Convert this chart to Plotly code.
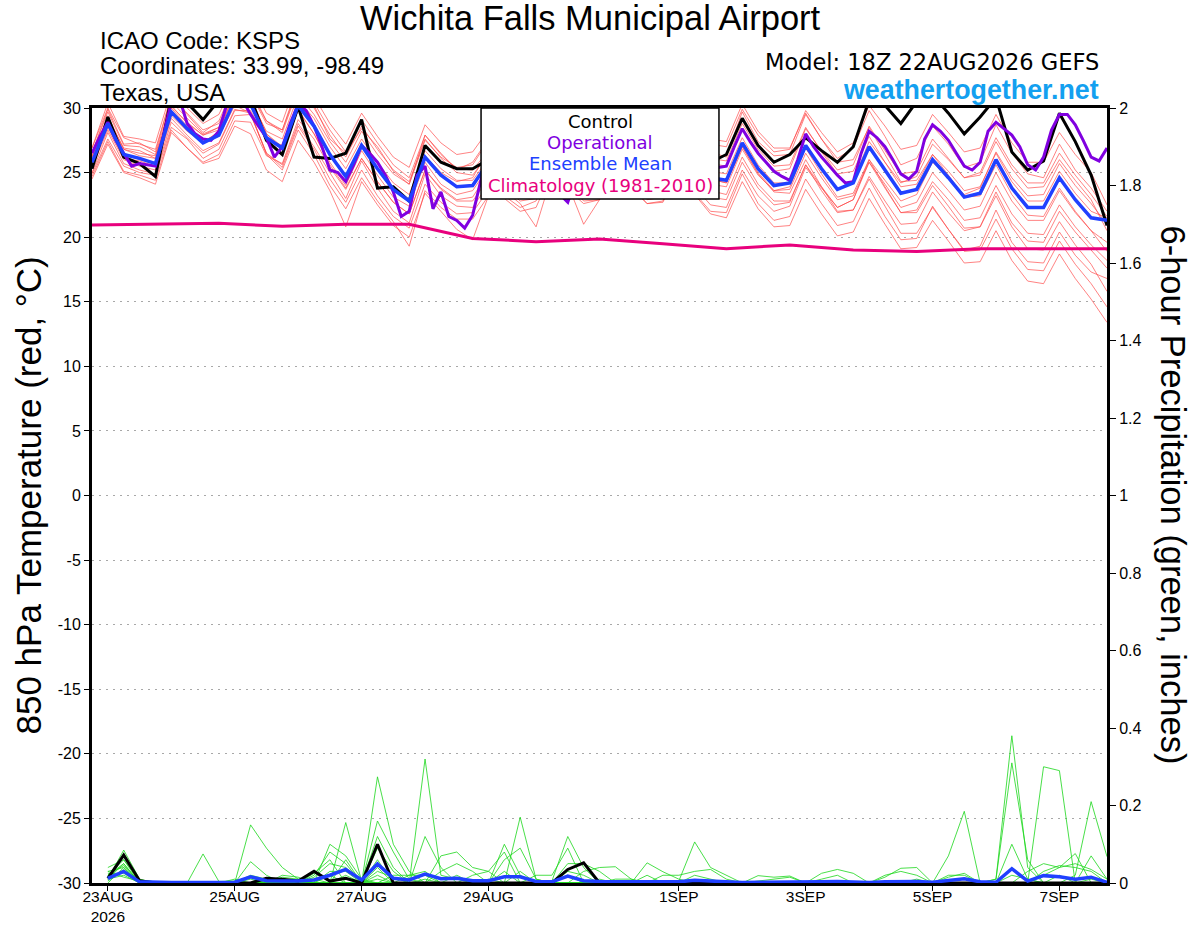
"""
GEFS plume for Wichita Falls Municipal Airport (KSPS).
850 hPa temperature (left axis) and 6-hour precipitation (right axis)
from the 18Z 22AUG2026 run, with control, operational, ensemble mean
and 1981-2010 climatology.
"""

import pandas as pd
import plotly.graph_objects as go

FONT = "Liberation Sans, Arial, Helvetica, sans-serif"
WIDE_FONT = "DejaVu Sans, Verdana, sans-serif"

# --- time axes ------------------------------------------------------------
temp_times = pd.date_range("2026-08-22 18:00", periods=65, freq="6h")
op_times = pd.date_range("2026-08-22 18:00", periods=129, freq="3h")
precip_times = pd.date_range("2026-08-23 00:00", periods=64, freq="6h")
clim_times = pd.date_range("2026-08-22 18:00", periods=17, freq="24h")

tick_dates = ["2026-08-23", "2026-08-25", "2026-08-27", "2026-08-29",
              "2026-09-01", "2026-09-03", "2026-09-05", "2026-09-07"]
tick_labels = ["23AUG<br>2026", "25AUG", "27AUG", "29AUG",
               "1SEP", "3SEP", "5SEP", "7SEP"]
temp_ticks = [-30, -25, -20, -15, -10, -5, 0, 5, 10, 15, 20, 25, 30]
temp_tick_labels = ["-30", "-25", "-20", "-15", "-10", "-5", "0",
                    "5", "10", "15", "20", "25", "30"]

# --- 850 hPa temperature (deg C), 6-hourly ---------------------------------
control_temp = [25.3, 29.3, 26.2, 25.7, 24.7, 30.8, 30.4, 29.1, 30.6, 31.5,
                30.8, 27.5, 26.4, 30.1, 26.2, 26.1, 26.5, 29.1, 23.8, 23.9,
                22.8, 27.1, 25.8, 25.3, 25.3, 26.0, 25.6, 24.8, 25.2, 28.0,
                26.8, 25.3, 25.6, 28.6, 27.0, 25.5, 25.8, 28.8, 27.0, 25.8,
                26.4, 29.2, 27.1, 25.8, 26.4, 27.7, 26.7, 25.8, 27.0, 30.6,
                30.2, 28.8, 30.5, 31.0, 29.6, 28.0, 29.3, 30.8, 26.6, 25.2,
                25.9, 29.6, 27.4, 24.8, 20.9]

mean_temp = [25.8, 28.8, 26.4, 26.1, 25.7, 29.7, 28.4, 27.3, 27.9, 30.6,
             30.3, 27.7, 26.9, 30.2, 28.6, 26.4, 24.7, 27.1, 25.3, 23.7,
             22.8, 26.2, 24.8, 23.9, 24.0, 25.8, 25.6, 24.5, 24.8, 27.5,
             26.0, 24.8, 25.0, 27.8, 26.2, 25.0, 25.2, 28.0, 26.0, 24.6,
             24.4, 27.3, 25.3, 24.0, 24.2, 27.1, 25.3, 23.7, 24.2, 27.0,
             25.2, 23.4, 23.7, 26.0, 24.6, 23.1, 23.4, 26.0, 23.8, 22.3,
             22.3, 24.6, 22.9, 21.5, 21.3]

# operational run is 3-hourly
operational_temp = [26.5, 27.8, 28.9, 27.5, 26.5, 25.5, 25.7, 25.6, 25.5, 27.8,
                    30.5, 30.8, 28.8, 28.0, 27.6, 27.5, 28.2, 30.3, 31.2, 30.6,
                    29.5, 28.6, 27.7, 26.2, 27.0, 28.8, 30.3, 29.8, 28.6, 27.0,
                    25.2, 25.0, 24.3, 25.6, 27.1, 26.5, 25.8, 24.8, 23.5, 21.6,
                    22.0, 24.8, 25.5, 22.2, 23.5, 21.6, 21.3, 20.7, 21.7, 24.3,
                    26.5, 27.5, 28.2, 27.8, 27.0, 25.8, 24.8, 24.0, 23.8, 23.3,
                    22.7, 24.5, 26.5, 27.5, 27.8, 27.0, 26.0, 25.0, 24.5, 25.5,
                    27.0, 28.0, 28.2, 27.3, 26.3, 25.5, 25.0, 25.2, 25.3, 25.4,
                    25.5, 27.0, 28.4, 27.4, 26.5, 25.8, 25.1, 24.7, 24.4, 26.0,
                    28.0, 27.0, 26.2, 25.5, 24.8, 24.2, 24.3, 26.5, 28.2, 27.7,
                    27.0, 26.0, 24.9, 24.5, 25.1, 27.6, 28.7, 28.2, 27.5, 26.5,
                    25.5, 25.2, 25.8, 28.2, 28.9, 28.4, 27.9, 27.0, 25.6, 25.2,
                    26.2, 28.3, 29.5, 29.5, 28.7, 27.5, 26.2, 25.9, 26.9]

climatology_temp = [20.94, 21.0, 21.07, 20.85, 21.0, 21.0, 19.9, 19.65, 19.86,
                    19.5, 19.1, 19.4, 19.0, 18.9, 19.1, 19.1, 19.1]

m01_temp = [26.5, 29.9, 27.2, 27.3, 26.6, 30.9, 29.5, 28.1, 29.0, 31.8,
            31.2, 29.0, 28.1, 31.5, 30.2, 27.6, 26.5, 28.4, 27.0, 25.1,
            24.1, 27.9, 26.5, 25.2, 25.8, 27.6, 27.1, 26.3, 26.9, 29.6,
            28.1, 26.7, 27.2, 30.1, 28.4, 27.0, 27.5, 30.3, 28.1, 26.6,
            26.2, 29.7, 27.4, 26.3, 26.4, 29.5, 27.6, 26.1, 26.9, 29.8,
            27.8, 25.6, 26.1, 28.6, 27.2, 25.4, 25.8, 28.7, 26.5, 24.9,
            24.6, 27.2, 25.2, 23.8, 22.0]
m02_temp = [24.9, 27.6, 25.5, 25.0, 24.8, 28.5, 27.6, 26.1, 26.8, 29.4,
            29.5, 26.5, 25.6, 28.8, 27.0, 25.0, 23.0, 25.9, 23.8, 22.0,
            21.1, 24.9, 23.2, 22.4, 22.3, 24.1, 23.9, 22.8, 23.0, 25.8,
            24.1, 21.0, 22.9, 25.6, 23.8, 22.6, 22.8, 25.6, 23.4, 22.0,
            21.9, 24.9, 22.6, 21.3, 21.6, 24.5, 22.6, 20.9, 21.2, 23.8,
            21.6, 19.8, 19.9, 22.4, 20.6, 19.0, 19.3, 22.1, 19.6, 18.1,
            18.0, 20.4, 18.6, 17.3, 16.8]
m03_temp = [26.2, 29.4, 26.8, 26.5, 26.3, 30.1, 28.9, 27.9, 28.3, 31.0,
            30.6, 27.6, 26.5, 29.9, 28.0, 25.8, 24.0, 26.7, 24.8, 23.1,
            22.4, 25.8, 24.1, 23.3, 23.6, 25.4, 25.3, 24.6, 25.1, 28.0,
            26.6, 25.5, 25.9, 28.9, 27.1, 26.1, 26.3, 29.2, 27.0, 25.7,
            25.5, 28.3, 26.4, 25.1, 25.3, 28.4, 26.7, 25.2, 25.6, 28.6,
            26.7, 24.9, 25.1, 27.6, 26.1, 24.6, 24.8, 27.4, 25.3, 23.8,
            23.9, 26.0, 24.4, 22.9, 20.5]
m04_temp = [25.4, 28.3, 26.0, 25.5, 25.2, 29.2, 27.9, 26.7, 27.3, 29.9,
            29.6, 26.5, 25.4, 28.6, 26.8, 24.5, 22.7, 25.2, 23.2, 21.6,
            20.7, 24.1, 22.7, 21.8, 21.9, 23.7, 23.6, 22.6, 20.8, 24.8,
            24.8, 23.6, 23.9, 26.8, 25.2, 24.0, 24.2, 27.0, 25.0, 23.6,
            23.3, 26.2, 24.1, 22.8, 22.8, 25.6, 23.6, 21.9, 22.1, 24.7,
            22.8, 21.0, 21.1, 23.5, 21.9, 20.5, 20.8, 23.5, 21.1, 19.7,
            19.6, 22.0, 20.4, 19.0, 17.6]
m05_temp = [26.9, 30.4, 27.8, 27.6, 27.3, 31.3, 30.0, 28.8, 29.5, 32.1,
            32.0, 29.6, 28.9, 32.4, 30.9, 28.8, 27.2, 29.6, 27.8, 26.2,
            25.4, 28.7, 27.3, 26.4, 26.6, 28.3, 28.0, 26.9, 27.1, 29.6,
            27.9, 26.5, 26.6, 29.4, 27.7, 26.5, 26.7, 29.5, 27.4, 26.1,
            25.9, 28.8, 26.8, 25.5, 25.6, 28.5, 26.6, 24.9, 25.1, 27.8,
            25.8, 23.9, 24.1, 26.4, 25.1, 23.6, 23.9, 26.5, 24.3, 22.8,
            22.8, 25.1, 23.4, 22.0, 21.5]
m06_temp = [24.5, 27.2, 25.0, 24.6, 24.1, 28.1, 26.9, 25.8, 26.4, 29.0,
            28.9, 26.3, 25.7, 29.1, 27.6, 25.4, 23.7, 26.1, 24.3, 22.7,
            21.8, 25.2, 23.7, 22.8, 22.8, 24.5, 24.3, 23.1, 23.3, 25.9,
            24.2, 22.8, 22.9, 25.6, 23.9, 22.6, 22.7, 25.4, 23.3, 21.8,
            21.5, 24.3, 22.2, 20.8, 20.9, 23.7, 21.8, 20.1, 20.4, 23.0,
            21.0, 19.1, 19.2, 21.3, 19.7, 18.0, 18.1, 20.5, 18.2, 16.6,
            16.4, 18.7, 16.8, 15.2, 13.4]
m07_temp = [25.7, 28.9, 26.5, 26.0, 25.8, 29.8, 28.5, 27.4, 28.1, 30.8,
            30.6, 28.2, 27.6, 31.0, 29.5, 27.4, 25.8, 28.2, 26.4, 24.9,
            24.1, 27.5, 26.2, 25.4, 25.6, 27.5, 27.4, 26.4, 26.9, 29.7,
            28.3, 27.2, 27.5, 30.4, 28.8, 27.6, 27.8, 30.6, 28.6, 27.2,
            27.0, 29.9, 27.9, 26.6, 26.8, 29.8, 28.1, 26.6, 27.3, 30.2,
            28.6, 26.8, 27.1, 29.5, 28.1, 26.6, 26.9, 29.5, 27.3, 25.8,
            25.8, 28.1, 26.4, 25.0, 22.5]
m08_temp = [26.3, 29.2, 26.9, 26.7, 26.1, 30.0, 28.6, 27.4, 27.8, 30.2,
            29.6, 26.4, 25.2, 28.3, 26.4, 24.0, 22.2, 24.6, 22.8, 21.2,
            19.3, 23.6, 22.3, 21.4, 21.4, 23.2, 23.0, 22.0, 22.3, 25.1,
            23.7, 22.6, 22.9, 25.9, 24.5, 23.4, 23.7, 26.5, 24.5, 23.1,
            22.9, 25.8, 23.8, 22.5, 22.7, 25.6, 23.9, 22.3, 22.9, 25.8,
            24.1, 22.3, 22.7, 25.0, 23.6, 22.1, 22.4, 25.0, 22.8, 21.3,
            21.3, 23.6, 21.9, 20.5, 19.6]
m09_temp = [25.0, 28.1, 25.7, 25.2, 24.9, 28.9, 27.7, 26.5, 27.2, 29.8,
            29.8, 27.6, 27.1, 30.6, 29.2, 27.0, 25.3, 27.6, 25.8, 24.2,
            23.3, 26.7, 25.3, 24.4, 24.4, 26.1, 25.8, 24.7, 24.9, 27.6,
            26.0, 24.8, 25.0, 27.8, 26.2, 25.0, 25.2, 28.0, 25.9, 24.5,
            24.2, 27.0, 25.0, 23.6, 23.7, 26.5, 24.6, 22.9, 23.2, 25.8,
            23.8, 21.9, 22.1, 24.3, 22.9, 21.3, 21.5, 24.0, 21.8, 20.3,
            20.2, 22.5, 20.8, 19.4, 18.2]
m10_temp = [26.9, 30.0, 27.7, 27.2, 26.8, 30.9, 29.6, 28.3, 28.8, 31.3,
            30.9, 28.0, 26.8, 29.8, 28.0, 25.6, 23.8, 26.1, 24.3, 22.7,
            21.8, 25.2, 23.8, 22.9, 23.1, 25.0, 24.9, 23.9, 24.3, 27.1,
            25.7, 24.6, 24.9, 27.9, 26.4, 25.3, 25.6, 28.5, 26.5, 25.1,
            24.9, 27.7, 25.6, 24.2, 24.2, 26.9, 24.9, 23.1, 23.4, 26.0,
            23.9, 21.9, 21.9, 24.0, 22.4, 20.7, 20.8, 23.2, 20.8, 19.1,
            19.0, 21.2, 19.4, 17.9, 15.8]
m11_temp = [25.5, 28.5, 26.1, 25.9, 25.5, 29.4, 28.2, 27.3, 28.2, 31.2,
            31.1, 28.8, 28.3, 31.9, 30.4, 28.3, 26.6, 29.1, 27.3, 25.6,
            24.6, 27.9, 26.4, 25.3, 25.2, 26.7, 26.2, 24.8, 24.8, 27.2,
            25.3, 23.8, 23.6, 26.1, 24.3, 22.9, 23.1, 25.9, 23.9, 22.5,
            22.3, 25.2, 23.2, 22.0, 22.4, 25.4, 23.8, 22.3, 22.9, 26.0,
            24.4, 22.8, 23.3, 25.8, 24.6, 23.3, 23.8, 26.6, 24.6, 23.2,
            23.3, 25.7, 24.0, 22.6, 21.0]
m12_temp = [26.5, 29.7, 27.1, 27.0, 26.4, 30.5, 29.2, 28.0, 28.5, 31.1,
            30.8, 28.0, 27.0, 30.3, 28.6, 26.4, 24.7, 27.1, 25.3, 23.7,
            22.8, 26.3, 25.0, 24.3, 24.6, 26.7, 26.8, 26.0, 26.6, 29.6,
            28.4, 27.5, 27.9, 30.9, 29.2, 28.0, 28.2, 31.0, 29.0, 27.6,
            27.4, 30.3, 28.2, 26.9, 26.9, 29.6, 27.6, 25.8, 26.0, 28.5,
            26.4, 24.3, 24.4, 26.4, 24.8, 23.1, 23.2, 25.6, 23.3, 21.7,
            21.6, 23.8, 22.0, 20.5, 18.9]
m13_temp = [24.7, 27.4, 25.1, 24.8, 24.4, 28.3, 26.9, 25.7, 26.1, 28.6,
            28.0, 25.2, 24.3, 27.5, 25.8, 23.6, 20.8, 24.3, 22.5, 20.9,
            20.0, 23.4, 22.0, 20.6, 19.8, 23.2, 23.2, 22.3, 22.8, 25.7,
            24.5, 23.5, 23.9, 26.9, 25.5, 24.5, 24.8, 27.7, 25.8, 24.5,
            24.2, 27.0, 24.9, 23.5, 23.4, 26.0, 23.9, 22.0, 22.1, 24.5,
            22.4, 20.3, 20.3, 22.3, 20.6, 18.9, 19.0, 21.4, 19.1, 17.5,
            17.4, 19.7, 17.9, 16.4, 14.6]
m14_temp = [26.2, 29.0, 26.8, 26.3, 26.1, 30.2, 28.8, 27.9, 28.5, 31.5,
            31.5, 29.0, 28.3, 31.6, 30.0, 27.9, 26.2, 28.6, 26.8, 25.2,
            24.3, 27.6, 26.1, 25.0, 24.8, 26.4, 26.0, 24.7, 24.9, 27.4,
            25.8, 24.4, 24.5, 27.3, 25.7, 24.5, 24.7, 27.5, 25.5, 24.1,
            23.9, 26.8, 24.8, 23.6, 23.9, 26.9, 25.2, 23.7, 24.4, 27.4,
            25.8, 24.2, 24.7, 27.2, 26.0, 24.6, 25.0, 27.7, 25.6, 24.2,
            24.2, 26.5, 24.8, 23.3, 21.6]

# --- 6-hour precipitation (inches) ----------------------------------------
control_precip = [.012, .072, .006, 0, 0, 0, 0, 0, 0, 0, .012, .01, .005, .03, .005, .012,
                  0, .1, 0, 0, 0, 0, 0, 0, 0, 0, 0, 0, 0, .035, .052, 0,
                  0, 0, 0, 0, 0, 0, 0, 0, 0, 0, 0, 0, 0, 0, 0, 0,
                  0, 0, 0, 0, 0, 0, 0, 0, 0, 0, 0, 0, 0, 0, 0, 0]
mean_precip = [.012, .03, .003, .001, .001, .001, .001, .001, .002, .016, .006, .005, .005, .008, .02, .035,
               .008, .049, .012, .008, .023, .011, .012, .006, .006, .016, .016, .004, .003, .018, .006, .004,
               .004, .002, .003, .002, .003, .007, .005, .002, .001, .002, .002, .002, .001, .003, .004, .003,
               .001, .003, .004, .004, .002, .007, .011, .003, .002, .037, .005, .019, .016, .01, .015, .002]

m01_precip = [.02, .05, 0, 0, 0, 0, 0, 0, 0, 0, 0, .02, .015, 0, .02, 0,
              0, .04, 0, 0, 0, .07, .08, .04, .03, 0, 0, 0, 0, 0, 0, .01,
              0, 0, 0, 0, 0, 0, 0, 0, 0, 0, 0, 0, 0, 0, 0, 0,
              0, .015, .038, .04, 0, 0, 0, 0, 0, 0, 0, 0, 0, .02, .21, .068]
m02_precip = [.01, .085, .01, 0, 0, 0, 0, 0, 0, .055, .02, 0, 0, 0, 0, 0,
              0, .12, .04, 0, 0, 0, 0, 0, 0, .1, .02, 0, 0, 0, 0, 0,
              0, 0, .02, 0, 0, 0, 0, 0, 0, 0, 0, 0, 0, 0, 0, 0,
              0, 0, 0, 0, 0, .07, .185, 0, 0, 0, 0, 0, 0, 0, 0, 0]
m03_precip = [.03, .04, 0, 0, 0, 0, 0, 0, .01, 0, 0, 0, 0, .02, .08, .05,
              0, .01, 0, .02, .02, 0, 0, 0, 0, 0, 0, 0, .005, .12, .04, 0,
              0, 0, 0, 0, 0, 0, 0, 0, 0, .019, .015, .018, 0, 0, 0, 0,
              0, 0, 0, 0, 0, 0, 0, 0, 0, 0, 0, .02, .04, .05, .035, .01]
m04_precip = [.015, .03, 0, 0, 0, 0, .075, .004, .005, 0, 0, 0, 0, 0, 0, .02,
              0, .03, .015, 0, 0, 0, 0, 0, 0, 0, .17, .01, 0, 0, 0, 0,
              0, 0, 0, 0, 0, 0, 0, 0, 0, 0, 0, 0, 0, 0, 0, 0,
              0, 0, 0, 0, 0, 0, 0, 0, .01, .38, .04, 0, 0, 0, 0, 0]
m05_precip = [.04, .06, .008, .003, 0, 0, 0, 0, 0, .015, 0, 0, 0, 0, .1, .07,
              .01, 0, 0, 0, 0, 0, 0, .02, .03, .08, 0, 0, 0, 0, 0, 0,
              0, 0, 0, 0, .005, .106, .04, .02, 0, 0, 0, 0, 0, 0, 0, 0,
              0, 0, 0, 0, 0, 0, 0, 0, 0, 0, 0, .03, .045, .04, .03, 0]
m06_precip = [.01, .02, 0, 0, 0, 0, 0, 0, 0, 0, 0, .015, .01, .01, 0, 0,
              0, .274, .1, .03, 0, 0, 0, 0, 0, 0, .03, 0, 0, .03, .02, 0,
              0, 0, 0, 0, 0, 0, 0, 0, 0, 0, 0, 0, 0, 0, 0, 0,
              0, .02, .03, .02, 0, 0, 0, 0, 0, 0, 0, 0, .02, 0, 0, 0]
m07_precip = [.02, .045, 0, 0, 0, 0, 0, 0, 0, .15, .09, .04, .01, 0, 0, 0,
              0, .02, 0, 0, 0, 0, .02, 0, 0, 0, 0, 0, 0, 0, .03, .04,
              .042, .01, 0, 0, 0, 0, 0, 0, 0, 0, 0, 0, 0, 0, 0, 0,
              0, 0, 0, 0, 0, 0, 0, 0, .01, .31, .06, 0, 0, 0, 0, 0]
m08_precip = [.005, .035, 0, 0, 0, 0, 0, 0, 0, 0, 0, 0, 0, 0, 0, .06,
              0, 0, .02, .02, .03, 0, 0, 0, .01, 0, 0, 0, 0, 0, 0, 0,
              0, 0, 0, 0, 0, 0, 0, 0, 0, .005, .01, .015, 0, 0, 0, 0,
              0, 0, 0, 0, 0, .015, .025, 0, 0, 0, 0, 0, 0, 0, 0, 0]
m09_precip = [.025, .025, 0, 0, 0, 0, 0, .003, 0, 0, 0, 0, 0, .015, .05, .04,
              0, 0, 0, 0, .32, .02, .01, 0, 0, 0, 0, 0, 0, .02, 0, 0,
              0, 0, .052, .029, .01, 0, 0, 0, 0, 0, 0, 0, 0, 0, 0, 0,
              0, 0, 0, 0, 0, 0, 0, 0, 0, .1, .01, 0, 0, 0, 0, 0]
m10_precip = [.01, .05, 0, 0, 0, 0, 0, 0, 0, .02, .01, 0, 0, 0, 0, 0,
              0, .16, .08, .01, 0, 0, 0, 0, 0, .03, 0, 0, 0, 0, 0, 0,
              .01, .01, 0, 0, 0, 0, 0, 0, 0, 0, 0, 0, 0, .025, .035, .025,
              0, 0, 0, 0, 0, 0, 0, 0, 0, 0, 0, 0, 0, 0, .07, .01]
m11_precip = [.03, .015, .005, 0, 0, 0, 0, 0, 0, 0, 0, 0, 0, .025, .06, 0,
              0, .06, 0, 0, 0, .03, .05, .03, 0, 0, 0, 0, 0, 0, 0, 0,
              0, 0, 0, .02, .02, .03, .035, .01, 0, 0, 0, 0, 0, 0, 0, 0,
              0, 0, 0, 0, 0, 0, 0, 0, 0, .02, .01, 0, 0, 0, 0, 0]
m12_precip = [.015, .03, 0, 0, 0, 0, 0, 0, 0, .01, 0, 0, 0, 0, 0, .156,
              .005, 0, 0, 0, .01, 0, 0, 0, 0, .06, .09, .01, 0, 0, 0, 0,
              0, 0, 0, 0, 0, .02, .01, 0, 0, 0, 0, 0, 0, 0, 0, 0,
              0, 0, 0, 0, 0, 0, 0, 0, 0, 0, .03, .05, .04, .076, 0, 0]
m13_precip = [0, .04, 0, 0, 0, 0, 0, 0, 0, 0, 0, 0, .005, 0, 0, 0,
              0, .09, .03, 0, 0, 0, 0, 0, 0, 0, 0, .02, .02, .09, 0, 0,
              0, 0, 0, 0, 0, 0, 0, 0, 0, 0, 0, 0, 0, .01, .02, 0,
              0, 0, 0, 0, 0, 0, 0, 0, 0, 0, 0, .3, .29, 0, 0, 0]
m14_precip = [.02, .06, 0, 0, 0, 0, 0, 0, 0, 0, 0, 0, 0, 0, .03, .03,
              0, 0, 0, 0, .12, .04, 0, 0, 0, 0, 0, 0, 0, .05, .05, .03,
              0, 0, 0, 0, 0, 0, 0, 0, 0, 0, 0, 0, 0, 0, 0, 0,
              0, 0, 0, .01, 0, .02, .02, 0, 0, 0, 0, 0, 0, 0, .01, 0]

temp_members = [m01_temp, m02_temp, m03_temp, m04_temp, m05_temp, m06_temp, m07_temp,
                m08_temp, m09_temp, m10_temp, m11_temp, m12_temp, m13_temp, m14_temp]
precip_members = [m01_precip, m02_precip, m03_precip, m04_precip, m05_precip,
                  m06_precip, m07_precip, m08_precip, m09_precip, m10_precip,
                  m11_precip, m12_precip, m13_precip, m14_precip]

RED = "rgba(255,70,70,0.75)"
GREEN = "rgba(30,215,30,0.9)"
PURPLE = "#8000e0"
BLUE = "#2040ff"
PINK = "#e8007d"

fig = go.Figure()

# ensemble members
for member in temp_members:
    fig.add_trace(go.Scatter(x=temp_times, y=member, mode="lines",
                             line=dict(color=RED, width=0.9), yaxis="y"))
for member in precip_members:
    fig.add_trace(go.Scatter(x=precip_times, y=member, mode="lines",
                             line=dict(color=GREEN, width=0.9), yaxis="y2"))

# climatology, control, operational, mean
fig.add_trace(go.Scatter(x=clim_times, y=climatology_temp, mode="lines",
                         line=dict(color=PINK, width=3), yaxis="y"))
fig.add_trace(go.Scatter(x=temp_times, y=control_temp, mode="lines",
                         line=dict(color="black", width=3), yaxis="y"))
fig.add_trace(go.Scatter(x=op_times, y=operational_temp, mode="lines",
                         line=dict(color=PURPLE, width=3), yaxis="y"))
fig.add_trace(go.Scatter(x=temp_times, y=mean_temp, mode="lines",
                         line=dict(color=BLUE, width=3.5), yaxis="y"))
fig.add_trace(go.Scatter(x=precip_times, y=control_precip, mode="lines",
                         line=dict(color="black", width=3), yaxis="y2"))
fig.add_trace(go.Scatter(x=precip_times, y=mean_precip, mode="lines",
                         line=dict(color=BLUE, width=3.5), yaxis="y2"))

annotations = [
    dict(text="Wichita Falls Municipal Airport", x=0.4916, y=1.116,
         xanchor="center", yanchor="middle", font=dict(size=34.5)),
    dict(text="ICAO Code: KSPS", x=0.006, y=1.0877,
         xanchor="left", yanchor="middle", font=dict(size=24)),
    dict(text="Coordinates: 33.99, -98.49", x=0.006, y=1.0542,
         xanchor="left", yanchor="middle", font=dict(size=24)),
    dict(text="Texas, USA", x=0.006, y=1.0206,
         xanchor="left", yanchor="middle", font=dict(size=24)),
    dict(text="Model: 18Z 22AUG2026 GEFS", x=0.994, y=1.0594,
         xanchor="right", yanchor="middle", font=dict(size=22.5, family=WIDE_FONT)),
    dict(text="<b>weathertogether.net</b>", x=0.994, y=1.0226,
         xanchor="right", yanchor="middle", font=dict(size=26.8, color="#13a0f0")),
    dict(text="850 hPa Temperature (red, °C)", x=-0.063, y=0.5, textangle=-90,
         xanchor="center", yanchor="middle", font=dict(size=35)),
    dict(text="6-hour Precipitation (green, inches)", x=1.066, y=0.5, textangle=90,
         xanchor="center", yanchor="middle", font=dict(size=34.5)),
    # legend box text
    dict(text="Control", x=0.5005, y=0.9832, xanchor="center", yanchor="middle",
         font=dict(size=18, color="black", family=WIDE_FONT)),
    dict(text="Operational", x=0.5005, y=0.9561, xanchor="center", yanchor="middle",
         font=dict(size=18, color=PURPLE, family=WIDE_FONT)),
    dict(text="Ensemble Mean", x=0.5005, y=0.929, xanchor="center", yanchor="middle",
         font=dict(size=18, color=BLUE, family=WIDE_FONT)),
    dict(text="Climatology (1981-2010)", x=0.5005, y=0.9006, xanchor="center",
         yanchor="middle", font=dict(size=18, color=PINK, family=WIDE_FONT)),
]
for a in annotations:
    a.update(xref="paper", yref="paper", showarrow=False)

fig.update_layout(
    width=1200,
    height=927,
    margin=dict(l=92, r=93, t=108, b=44, autoexpand=False),
    plot_bgcolor="white",
    paper_bgcolor="white",
    showlegend=False,
    hovermode=False,
    font=dict(family=FONT, color="black", size=15),
    annotations=annotations,
    shapes=[dict(type="rect", xref="paper", yref="paper",
                 x0=0.3833, x1=0.6177, y0=0.8826, y1=1.0,
                 fillcolor="white", line=dict(color="black", width=1.5),
                 layer="above")],
    xaxis=dict(
        type="date",
        range=["2026-08-22 18:00", "2026-09-07 18:00"],
        tickvals=tick_dates,
        ticktext=tick_labels,
        ticks="outside", ticklen=5, tickwidth=1, tickcolor="black",
        ticklabelstandoff=-8,
        showline=True, linewidth=3, linecolor="black", mirror=True,
        showgrid=False, zeroline=False, automargin=False,
        tickfont=dict(size=15.5),
    ),
    yaxis=dict(
        range=[-30, 30],
        tickvals=temp_ticks, ticktext=temp_tick_labels,
        ticks="outside", ticklen=5, tickwidth=1, tickcolor="black",
        showline=True, linewidth=3, linecolor="black",
        showgrid=True, gridcolor="#a8a8a8", griddash="2px,5px", gridwidth=1,
        zeroline=False, automargin=False, tickfont=dict(size=16),
    ),
    yaxis2=dict(
        range=[0, 2], dtick=0.2, overlaying="y", side="right",
        ticks="outside", ticklen=6, tickwidth=1, tickcolor="black",
        showline=True, linewidth=3, linecolor="black",
        showgrid=False, zeroline=False, automargin=False, tickfont=dict(size=16),
    ),
)

# drop the default page margin so the figure sits at the window origin
fig.write_html(
    "out.html",
    config={"displayModeBar": False},
    post_script="document.body.style.margin='0';document.body.style.overflow='hidden';",
)
